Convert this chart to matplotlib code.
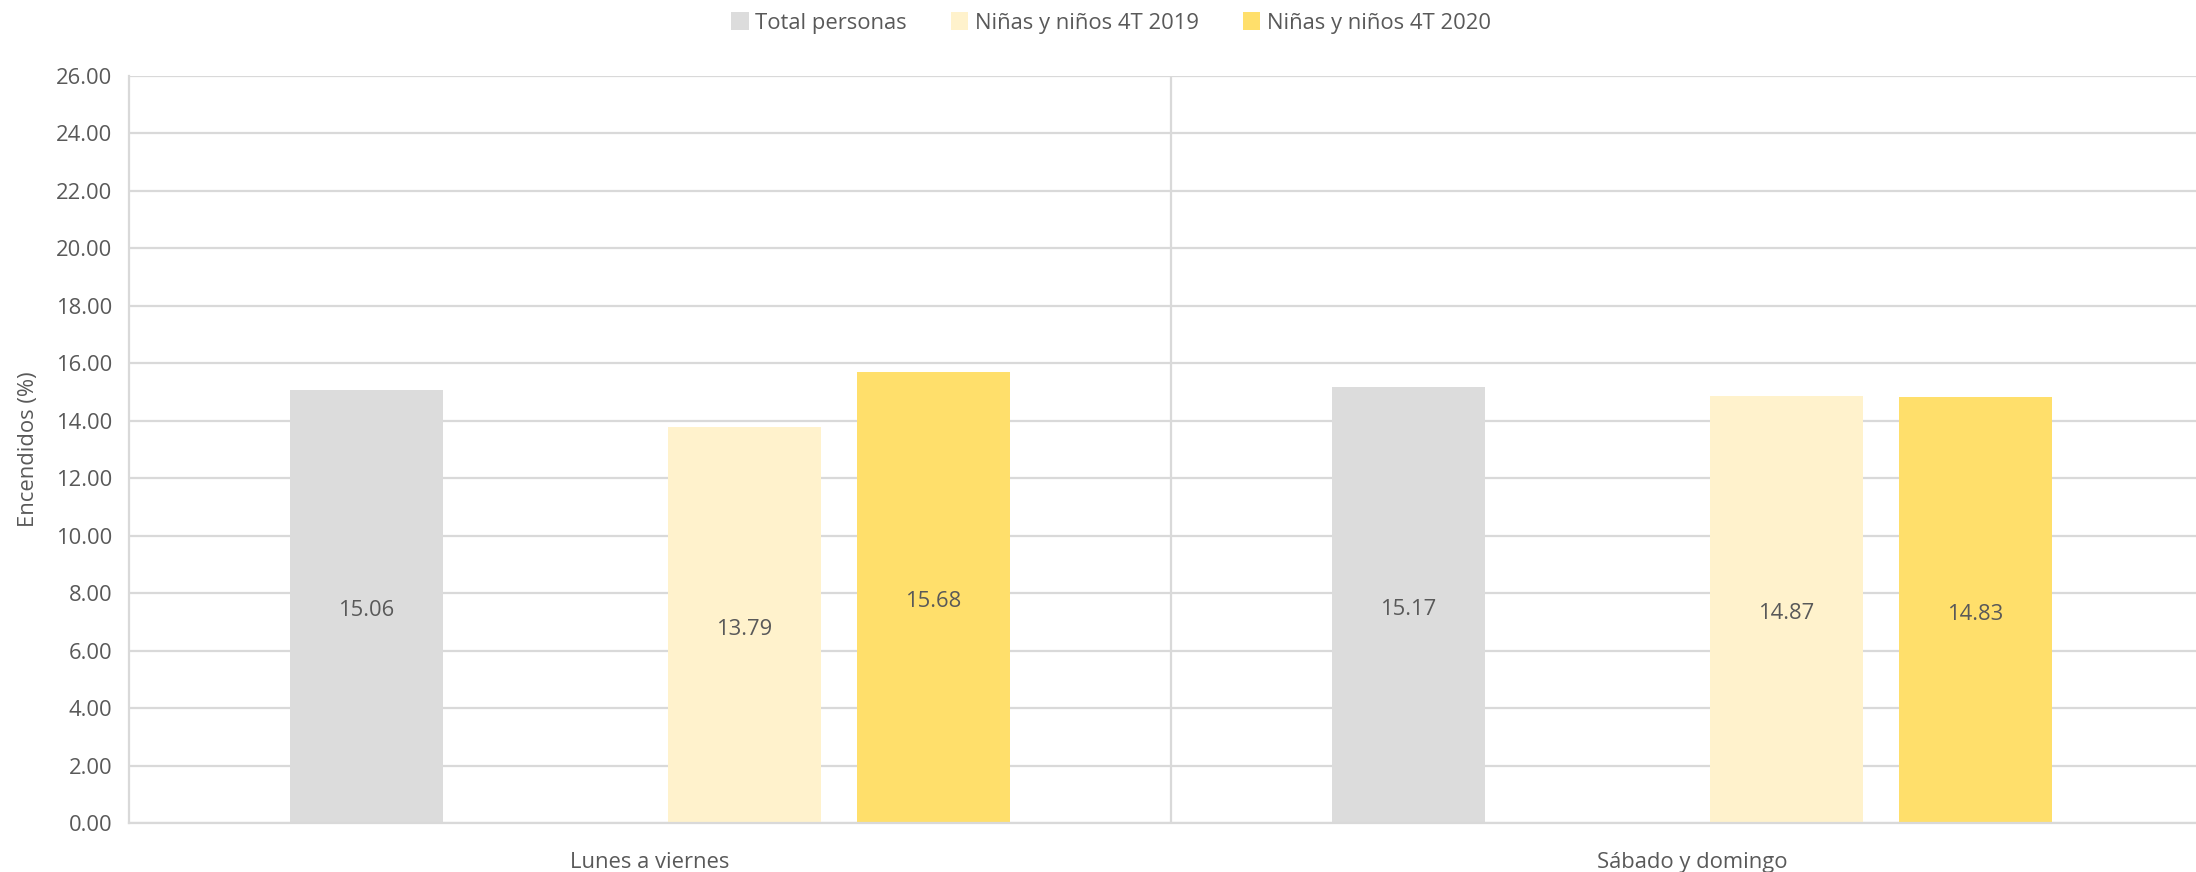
import matplotlib
matplotlib.use("Agg")
import matplotlib.pyplot as plt
import numpy as np

# datos
categorias = ["Lunes a viernes", "Sábado y domingo"]
series = ["Total personas", "Niñas y niños 4T 2019", "Niñas y niños 4T 2020"]
total_personas = [15.06, 15.17]
ninos_2019 = [13.79, 14.87]
ninos_2020 = [15.68, 14.83]
valores = [total_personas, ninos_2019, ninos_2020]
colores = ["#DCDCDC", "#FFF2CC", "#FFDF6B"]
# posición de cada serie en los 4 huecos por categoría (el segundo queda vacío)
huecos = [-1.5, 0.5, 1.5]

plt.rcParams["font.family"] = ["Open Sans", "DejaVu Sans"]
texto = "#595959"
gris = "#D9D9D9"
fs = 15.8

fig = plt.figure(figsize=(21.96, 8.72), dpi=100)
ax = fig.add_axes([129 / 2196, 49 / 872, 2084 / 2196, 747.4 / 872])

paso = 0.1814
ancho = 0.146
x = np.arange(len(categorias))

for vals, nombre, color, h in zip(valores, series, colores, huecos):
    barras = ax.bar(x + h * paso, vals, width=ancho, color=color, label=nombre, zorder=2)
    for b, v in zip(barras, vals):
        ax.text(b.get_x() + b.get_width() / 2, v / 2 - 0.15, f"{v:.2f}", ha="center", va="center",
                fontsize=fs, color=texto, zorder=3)

ax.set_xlim(-0.5, 1.5)
ax.set_ylim(0, 26)
ax.set_yticks(np.arange(0, 27, 2))
ax.set_yticklabels([f"{t:.2f}" for t in np.arange(0, 27, 2)])
ax.set_xticks(x)
ax.set_xticklabels(categorias)
ax.tick_params(axis="both", length=0, labelsize=fs, colors=texto)
ax.tick_params(axis="x", pad=21)
ax.tick_params(axis="y", pad=12)

ax.grid(axis="y", color=gris, linewidth=1.6, zorder=0)
ax.axvline(0.5, color=gris, linewidth=1.6, zorder=0)
for lado in ["top", "right"]:
    ax.spines[lado].set_visible(False)
ax.spines["left"].set_color(gris)
ax.spines["left"].set_linewidth(1.6)
ax.spines["bottom"].set_color(gris)
ax.spines["bottom"].set_linewidth(1.6)

ax.set_ylabel("Encendidos (%)", fontsize=fs, color=texto)
ax.yaxis.set_label_coords(-90 / 2084, 0.5)

fig.legend(loc="center", bbox_to_anchor=(1111 / 2196, 1 - 23 / 872), ncol=3, frameon=False,
           fontsize=fs, labelcolor=texto, handlelength=0.8, handleheight=0.9,
           handletextpad=0.3, columnspacing=2.0)

fig.savefig("out.png", dpi=100)
